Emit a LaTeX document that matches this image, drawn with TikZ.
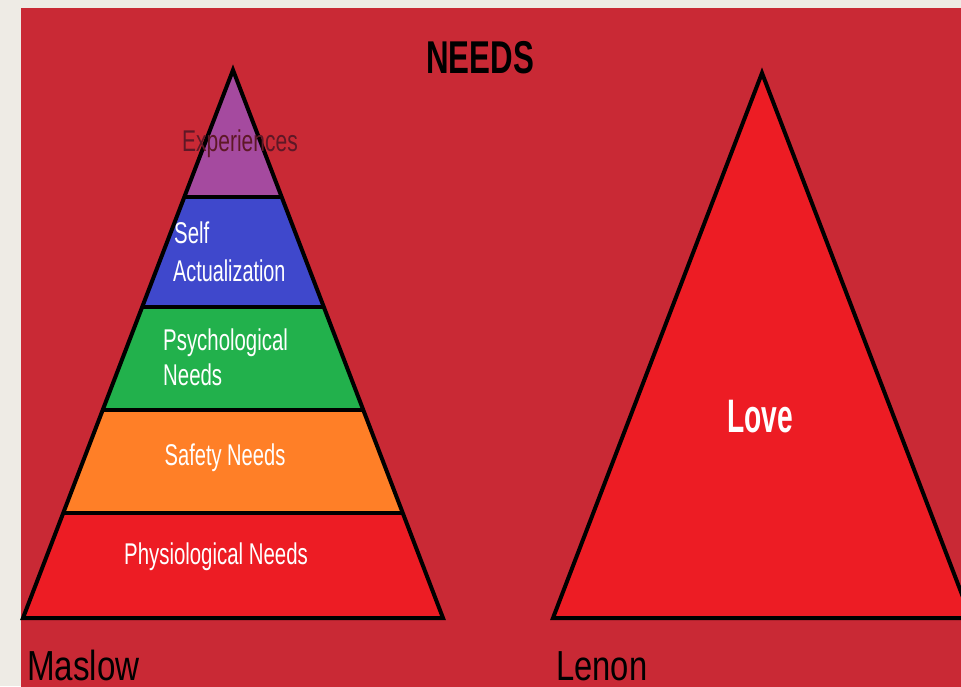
\documentclass[tikz,border=0pt]{standalone}
\usepackage{fontspec}
\setmainfont{Liberation Sans}
\usetikzlibrary{calc}
\definecolor{pagebg}{HTML}{EEEBE5}
\definecolor{slidered}{HTML}{C92935}
\definecolor{pPurple}{HTML}{A54A9F}
\definecolor{pBlue}{HTML}{3F48CC}
\definecolor{pGreen}{HTML}{22B14C}
\definecolor{pOrange}{HTML}{FF7F27}
\definecolor{pRed}{HTML}{ED1C24}
\definecolor{darktxt}{HTML}{5E1826}
\tikzset{
  outline/.style={draw=black,line width=4pt,line join=miter},
  divider/.style={draw=black,line width=4pt},
  lbl/.style={inner sep=0pt,text=white,font=\fontsize{30}{34}\selectfont},
  big/.style={inner sep=0pt,text=black,font=\fontsize{42}{46}\selectfont},
}
\newcommand{\cond}[1]{\scalebox{0.68}[1]{#1}}
\begin{document}
\begin{tikzpicture}[x=1pt,y=-1pt]
\useasboundingbox (0,0) rectangle (961,686);
\fill[pagebg] (0,0) rectangle (961,686);
\begin{scope}
\clip (0,0) rectangle (961,686);
\fill[slidered] (21,8) rectangle (970,700);
% left pyramid
\coordinate (apex) at (233,70);
\coordinate (bl) at (23,618);
\coordinate (br) at (443,618);
\coordinate (l1) at ($(apex)!0.2318!(bl)$);
\coordinate (r1) at ($(apex)!0.2318!(br)$);
\coordinate (l2) at ($(apex)!0.4325!(bl)$);
\coordinate (r2) at ($(apex)!0.4325!(br)$);
\coordinate (l3) at ($(apex)!0.6204!(bl)$);
\coordinate (r3) at ($(apex)!0.6204!(br)$);
\coordinate (l4) at ($(apex)!0.8084!(bl)$);
\coordinate (r4) at ($(apex)!0.8084!(br)$);
\fill[pPurple] (apex) -- (r1) -- (l1) -- cycle;
\fill[pBlue] (l1) -- (r1) -- (r2) -- (l2) -- cycle;
\fill[pGreen] (l2) -- (r2) -- (r3) -- (l3) -- cycle;
\fill[pOrange] (l3) -- (r3) -- (r4) -- (l4) -- cycle;
\fill[pRed] (l4) -- (r4) -- (br) -- (bl) -- cycle;
\draw[divider] (l1) -- (r1);
\draw[divider] (l2) -- (r2);
\draw[divider] (l3) -- (r3);
\draw[divider] (l4) -- (r4);
\draw[outline] (apex) -- (br) -- (bl) -- cycle;
% right triangle
\coordinate (apex2) at (762,73);
\coordinate (bl2) at (553,618);
\coordinate (br2) at (971,618);
\draw[outline,fill=pRed] (apex2) -- (br2) -- (bl2) -- cycle;
\end{scope}
% texts
\node[inner sep=0pt,anchor=base,font=\bfseries\fontsize{46}{50}\selectfont] (title) at (480,73) {\cond{NEEDS}};
\node[lbl,anchor=base,text=darktxt] (exp) at (240,151) {\scalebox{0.70}[1]{Experiences}};
\node[lbl,anchor=base west] (self) at (174,243) {\cond{Self}};
\node[lbl,anchor=base west] (act) at (173,281) {\scalebox{0.66}[1]{Actualization}};
\node[lbl,anchor=base west] (psy) at (163,350) {\cond{Psychological}};
\node[lbl,anchor=base west] (nds) at (163,385) {\cond{Needs}};
\node[lbl,anchor=base] (safe) at (225,465) {\scalebox{0.67}[1]{Safety Needs}};
\node[lbl,anchor=base] (phys) at (216,564) {\cond{Physiological Needs}};
\node[inner sep=0pt,anchor=base,text=white,font=\bfseries\fontsize{47}{50}\selectfont] (love) at (760,432) {\scalebox{0.6}[1]{Love}};
\node[big,anchor=base west] (maslow) at (27,680) {\scalebox{0.79}[1]{Maslow}};
\node[big,anchor=base west] (lenon) at (556,680) {\scalebox{0.78}[1]{Lenon}};
\end{tikzpicture}
\end{document}
